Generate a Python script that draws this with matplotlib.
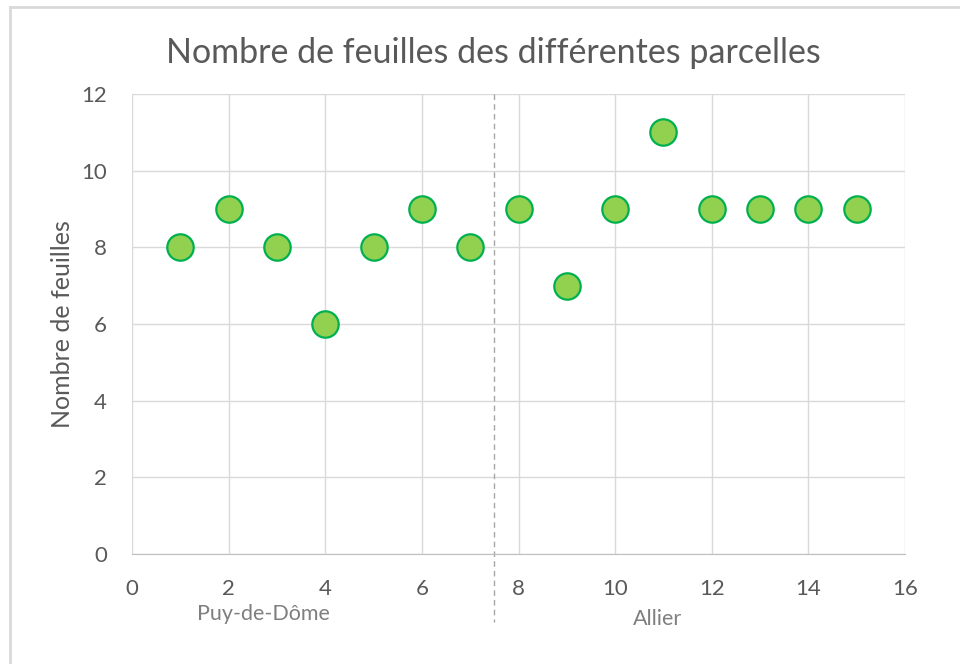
import matplotlib.pyplot as plt
from matplotlib.lines import Line2D

# parcelles et nombre de feuilles
parcelles = [1, 2, 3, 4, 5, 6, 7, 8, 9, 10, 11, 12, 13, 14, 15]
feuilles = [8, 9, 8, 6, 8, 9, 8, 9, 7, 9, 11, 9, 9, 9, 9]
separation = 7.5
groupes = ["Puy-de-Dôme", "Allier"]
groupes_x = [2.73, 10.87]

plt.rcParams['font.family'] = ['Lato', 'DejaVu Sans']

fig = plt.figure(figsize=(9.6, 6.64), dpi=100)
ax = fig.add_axes([132 / 960, 1 - 554 / 664, 773 / 960, 460 / 664])

gris_grille = "#D9D9D9"
gris_texte = "#595959"

ax.scatter(parcelles, feuilles, s=19 ** 2, color="#92D050", edgecolors="#00B050",
           linewidths=1.6, zorder=3, clip_on=False)

ax.set_xlim(0, 16)
ax.set_ylim(0, 12)
ax.set_xticks(range(0, 17, 2))
ax.set_yticks(range(0, 13, 2))
ax.grid(True, color=gris_grille, linewidth=1)
ax.set_axisbelow(True)
for side in ["top", "right", "left"]:
    ax.spines[side].set_visible(False)
ax.spines["bottom"].set_color("#BFBFBF")
ax.tick_params(length=0, labelsize=16, colors=gris_texte)
ax.tick_params(axis="x", pad=18)
ax.tick_params(axis="y", pad=18)

ax.set_ylabel("Nombre de feuilles", fontsize=18, color=gris_texte, labelpad=5)
fig.text(493 / 960, 1 - 53 / 664, "Nombre de feuilles des différentes parcelles",
         fontsize=24.5, color=gris_texte, ha="center", va="center")

# ligne de séparation entre les deux départements
ax.plot([separation, separation], [12, -1.78], linestyle=(0, (4, 3)), color="#A6A6A6",
        linewidth=1, clip_on=False, zorder=2)

for nom, gx, dy in zip(groupes, groupes_x, [-1.56, -1.69]):
    ax.text(gx, dy, nom, ha="center", va="center", fontsize=15.5, color="#7F7F7F")

# cadre du graphique
fig.add_artist(Line2D([10 / 960, 1], [1 - 7 / 664] * 2, color=gris_grille, linewidth=2))
fig.add_artist(Line2D([10 / 960] * 2, [0, 1 - 7 / 664], color=gris_grille, linewidth=2))

fig.savefig("out.png", dpi=100)
